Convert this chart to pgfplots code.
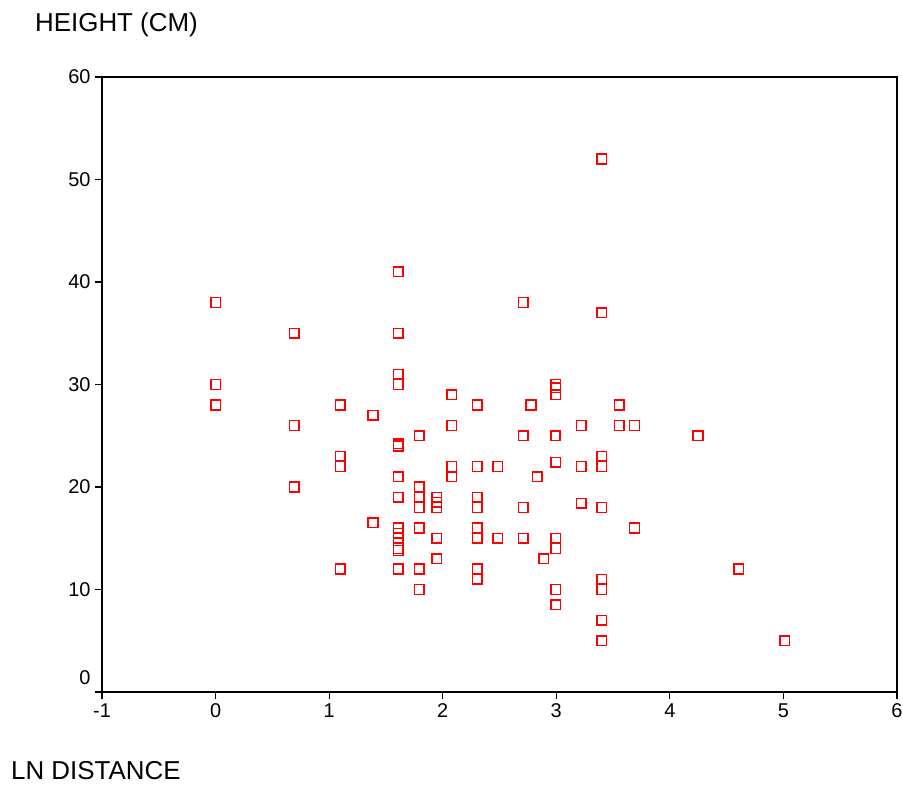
\documentclass[border=0pt]{standalone}
\usepackage{fontspec}
\setmainfont{Liberation Sans}
\usepackage{pgfplots}
\pgfplotsset{compat=1.18}

\begin{document}
\begin{tikzpicture}[x=1bp,y=1bp]
\useasboundingbox (-102bp,-93bp) rectangle (801bp,692bp);
\begin{axis}[
  at={(0,0)}, anchor=south west,
  scale only axis,
  width=795bp, height=615bp,
  xmin=-1, xmax=6, ymin=0, ymax=60,
  xtick={-1,0,...,6}, ytick={10,20,...,60},
  extra y ticks={0},
  extra y tick style={yticklabel style={yshift=14bp}},
  axis line style={line width=1.3bp},
  every tick/.style={black, line width=1.1bp},
  tick align=outside, major tick length=7bp,
  xtick pos=bottom, ytick pos=left,
  /pgf/number format/assume math mode=true,
  tick label style={font=\fontsize{20}{23}\selectfont},
  xticklabel style={yshift=-1bp},
  yticklabel style={xshift=-1bp},
  clip=false,
]
\addplot[only marks, color=red, mark=square, mark size=4.8bp,
  mark options={draw=red, fill=none, solid, line width=1.5bp}]
coordinates {
(0,38) (0,30) (0,28)
(0.693,35) (0.693,26) (0.693,20)
(1.099,28) (1.099,23) (1.099,22) (1.099,12)
(1.386,27) (1.386,16.5)
(1.609,41) (1.609,35) (1.609,31) (1.609,30) (1.609,24) (1.609,24.2) (1.609,21) (1.609,19)
(1.609,16) (1.609,15.5) (1.609,15) (1.609,14) (1.609,13.8) (1.609,12)
(1.792,25) (1.792,20) (1.792,19) (1.792,18) (1.792,16) (1.792,12) (1.792,10)
(1.946,19) (1.946,18.5) (1.946,18) (1.946,15) (1.946,13)
(2.079,29) (2.079,26) (2.079,22) (2.079,21)
(2.303,28) (2.303,22) (2.303,19) (2.303,18) (2.303,16) (2.303,15) (2.303,12) (2.303,11)
(2.485,22) (2.485,15)
(2.708,38) (2.708,25) (2.708,18) (2.708,15)
(2.773,28) (2.78,28)
(2.833,21)
(2.890,13)
(2.996,30) (2.996,29.7) (2.996,29) (2.996,25) (2.99,25) (2.996,22.4) (2.996,15) (2.996,14) (2.996,10) (2.996,8.5)
(3.219,26) (3.219,22) (3.219,18.4)
(3.401,52) (3.401,37) (3.401,23) (3.401,22) (3.401,18) (3.401,11) (3.401,10) (3.401,7) (3.401,5)
(3.555,28) (3.555,26)
(3.689,26) (3.689,16)
(4.248,25)
(4.605,12)
(5.011,5)
};
\end{axis}
\node[anchor=west, font=\fontsize{26}{30}\selectfont, inner sep=0pt] at (-67bp,667bp) {HEIGHT (CM)};
\node[anchor=west, font=\fontsize{26}{30}\selectfont, inner sep=0pt] at (-91bp,-79bp) {LN DISTANCE};
\end{tikzpicture}
\end{document}
